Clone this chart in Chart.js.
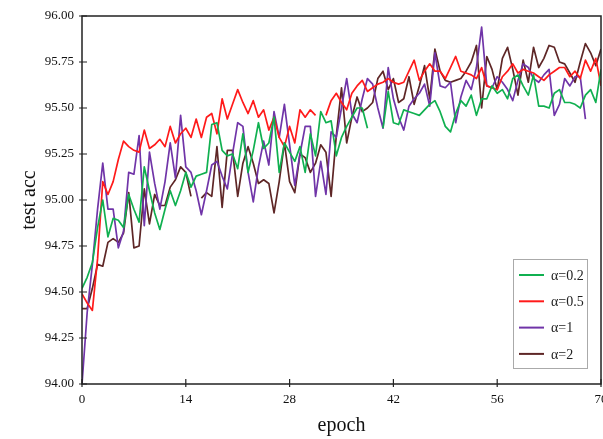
<!DOCTYPE html>
<html>
<head>
<meta charset="utf-8">
<title>test acc vs epoch</title>
<script src="https://cdn.jsdelivr.net/npm/chart.js@4.4.1/dist/chart.umd.min.js"></script>
<style>
  body { margin: 0; background: #fff; }
  #wrap { width: 603px; height: 439px; }
</style>
</head>
<body>
<div id="wrap"><canvas id="accChart" width="603" height="439"></canvas></div>
<script>
// test accuracy per evaluation step (one sample every 0.7 epoch, 0..70)
const accA02 = [94.52, 94.58, 94.66, 94.85, 95.00, 94.80, 94.90, 94.89, 94.85, 95.03,
  94.95, 94.88, 95.18, 95.05, 94.93, 94.84, 94.95, 95.05, 94.97, 95.05,
  95.15, 95.07, 95.13, 95.14, 95.15, 95.41, 95.42, 95.27, 95.24, 95.25,
  95.17, 95.36, 95.15, 95.27, 95.42, 95.28, 95.31, 95.45, 95.15, 95.31,
  95.26, 95.21, 95.29, 95.15, 95.36, 95.24, 95.48, 95.42, 95.43, 95.24,
  95.34, 95.40, 95.45, 95.50, 95.50, 95.39, null, null, 95.39, 95.59,
  95.42, 95.41, 95.49, 95.48, 95.47, 95.46, 95.49, 95.52, 95.54, 95.48,
  95.40, 95.37, 95.47, 95.54, 95.51, 95.57, 95.46, 95.55, 95.55, 95.62,
  95.58, 95.60, 95.55, 95.66, 95.68, 95.62, 95.57, 95.68, 95.51, 95.51,
  95.50, 95.58, 95.60, 95.53, 95.53, 95.52, 95.50, 95.57, 95.60, 95.53,
  95.71];

const accA05 = [94.49, 94.44, 94.40, 94.68, 95.10, 95.03, 95.10, 95.22, 95.32, 95.29,
  95.27, 95.26, 95.38, 95.28, 95.30, 95.33, 95.29, 95.40, 95.31, 95.36,
  95.39, 95.34, 95.44, 95.34, 95.45, 95.47, 95.36, 95.55, 95.44, 95.52,
  95.60, 95.53, 95.47, 95.54, 95.45, 95.49, 95.38, 95.45, 95.34, 95.29,
  95.40, 95.31, 95.49, 95.45, 95.49, 95.46, null, 95.46, 95.54, 95.58,
  95.53, 95.49, 95.58, 95.62, 95.65, 95.59, 95.61, 95.63, 95.64, 95.66,
  95.64, 95.63, 95.64, 95.70, 95.76, 95.65, 95.70, 95.74, 95.70, 95.70,
  95.66, 95.72, 95.78, 95.70, 95.69, 95.68, 95.66, 95.72, 95.62, 95.61,
  95.60, 95.67, 95.70, 95.74, 95.69, 95.71, 95.70, 95.69, 95.67, 95.65,
  95.68, 95.70, 95.72, 95.72, 95.67, 95.70, 95.66, 95.76, 95.70, 95.77,
  95.62];

const accA1 = [94.00, 94.39, 94.65, 94.95, 95.20, 94.95, 94.95, 94.74, 94.83, 95.15,
  95.14, 95.35, 94.86, 95.26, 95.09, 94.95, 95.10, 95.31, 95.12, 95.46,
  95.18, 95.15, 95.05, 94.92, 95.05, 95.19, 95.21, 95.13, 95.06, 95.25,
  95.42, 95.40, 95.15, 94.99, 95.18, 95.32, 95.19, 95.48, 95.34, 95.52,
  95.30, 95.08, 95.25, 95.40, 95.40, 95.02, 95.21, 95.03, 95.37, 95.34,
  95.50, 95.66, 95.47, 95.42, 95.55, 95.66, 95.63, 95.50, 95.39, 95.72,
  95.55, 95.45, 95.38, 95.51, 95.55, 95.58, 95.63, 95.51, 95.80, 95.62,
  95.61, 95.64, 95.42, 95.56, 95.65, 95.60, 95.72, 95.94, 95.62, 95.61,
  95.67, 95.64, 95.60, 95.54, 95.65, 95.74, 95.72, 95.66, 95.64, 95.68,
  95.71, 95.46, 95.52, 95.66, 95.62, 95.67, 95.67, 95.44, null, null,
  null];

const accA2 = [94.41, 94.41, 94.52, 94.65, 94.64, 94.77, 94.79, 94.77, 94.82, 95.04,
  94.74, 94.75, 95.06, 94.87, 95.03, 94.97, 94.97, 95.07, 95.11, 95.18,
  95.15, 95.02, null, 95.01, 95.04, 95.02, 95.29, 94.96, 95.27, 95.27,
  95.02, 95.20, 95.29, 95.20, 95.09, 95.11, 95.09, 94.93, 95.10, 95.31,
  95.10, 95.04, 95.25, 95.23, 95.15, 95.20, 95.30, 95.26, 95.02, 95.35,
  95.61, 95.31, 95.45, 95.56, 95.48, 95.50, 95.53, 95.66, 95.70, 95.60,
  95.66, 95.53, 95.55, 95.67, 95.52, 95.62, 95.73, 95.55, 95.82, 95.70,
  95.65, 95.64, 95.65, 95.66, 95.70, 95.75, 95.84, 95.50, 95.78, 95.71,
  95.60, 95.77, 95.83, 95.71, 95.57, 95.76, 95.64, 95.83, 95.72, 95.77,
  95.84, 95.83, 95.75, 95.74, 95.69, 95.64, 95.75, 95.85, 95.80, 95.73,
  95.82];

const seriesNames = ['α=0.2', 'α=0.5', 'α=1', 'α=2'];
const seriesColors = ['#10b050', '#ff1a1a', '#7034a8', '#5e2626'];
const xTicks = [0, 14, 28, 42, 56, 70];
const yTicks = [94.00, 94.25, 94.50, 94.75, 95.00, 95.25, 95.50, 95.75, 96.00];
const epochStep = 0.7;
const epochs = accA02.map((_, i) => +(i * epochStep).toFixed(1));

const serif = 'Liberation Serif, Times New Roman, serif';

// frame, inward ticks and the boxed legend in the lower right
const frameLegend = {
  id: 'frameLegend',
  afterDatasetsDraw(chart) {
    const { ctx, chartArea: a, scales } = chart;
    ctx.save();
    ctx.strokeStyle = '#222';
    ctx.lineWidth = 1.5;
    ctx.strokeRect(a.left, a.top, a.right - a.left, a.bottom - a.top);

    ctx.lineWidth = 1.2;
    ctx.beginPath();
    scales.x.ticks.forEach(t => {
      const px = scales.x.getPixelForValue(t.value);
      ctx.moveTo(px, a.bottom + 3);
      ctx.lineTo(px, a.bottom - 5);
    });
    scales.y.ticks.forEach(t => {
      const py = scales.y.getPixelForValue(t.value);
      ctx.moveTo(a.left - 3, py);
      ctx.lineTo(a.left + 5, py);
    });
    ctx.stroke();

    // legend box
    const bx = 513, by = 259, bw = 74, bh = 109;
    ctx.fillStyle = '#fff';
    ctx.fillRect(bx, by, bw, bh);
    ctx.strokeStyle = '#aaa';
    ctx.lineWidth = 1;
    ctx.strokeRect(bx + 0.5, by + 0.5, bw, bh);
    ctx.font = '14px ' + serif;
    ctx.textBaseline = 'middle';
    chart.data.datasets.forEach((ds, i) => {
      const ly = by + 16 + i * 26.3;
      ctx.strokeStyle = ds.borderColor;
      ctx.lineWidth = 2;
      ctx.beginPath();
      ctx.moveTo(bx + 6, ly);
      ctx.lineTo(bx + 31, ly);
      ctx.stroke();
      ctx.fillStyle = '#222';
      ctx.fillText(ds.label, bx + 38, ly + 1);
    });
    ctx.restore();
  }
};

const seriesData = [accA02, accA05, accA1, accA2];

new Chart(document.getElementById('accChart'), {
  type: 'line',
  data: {
    labels: epochs,
    datasets: seriesData.map((d, i) => ({
      label: seriesNames[i],
      data: d,
      borderColor: seriesColors[i],
      backgroundColor: seriesColors[i],
      borderWidth: 1.7,
      borderJoinStyle: 'round',
      pointRadius: 0,
      tension: 0,
      spanGaps: false
    }))
  },
  options: {
    responsive: false,
    animation: false,
    layout: { padding: { top: 16, right: 2, left: 0, bottom: 0 } },
    plugins: {
      legend: { display: false },
      tooltip: { enabled: false }
    },
    scales: {
      x: {
        type: 'linear',
        min: 0,
        max: 70,
        afterBuildTicks: scale => { scale.ticks = xTicks.map(v => ({ value: v })); },
        afterFit: scale => { scale.height = 55; scale.paddingLeft = 0; scale.paddingRight = 0; },
        grid: { display: false, drawTicks: false },
        border: { display: false },
        ticks: {
          color: '#111',
          padding: 8,
          maxRotation: 0,
          font: { family: serif, size: 13 }
        },
        title: {
          display: true,
          text: 'epoch',
          color: '#111',
          padding: { top: 0, bottom: 1 },
          font: { family: serif, size: 20 }
        }
      },
      y: {
        min: 94,
        max: 96,
        afterBuildTicks: scale => { scale.ticks = yTicks.map(v => ({ value: v })); },
        afterFit: scale => { scale.width = 82; },
        grid: { display: false, drawTicks: false },
        border: { display: false },
        ticks: {
          color: '#111',
          padding: 8,
          font: { family: serif, size: 13 },
          callback: v => v.toFixed(2)
        },
        title: {
          display: true,
          text: 'test acc',
          color: '#111',
          padding: { top: 18, bottom: 0 },
          font: { family: serif, size: 20 }
        }
      }
    }
  },
  plugins: [frameLegend]
});
</script>
</body>
</html>
